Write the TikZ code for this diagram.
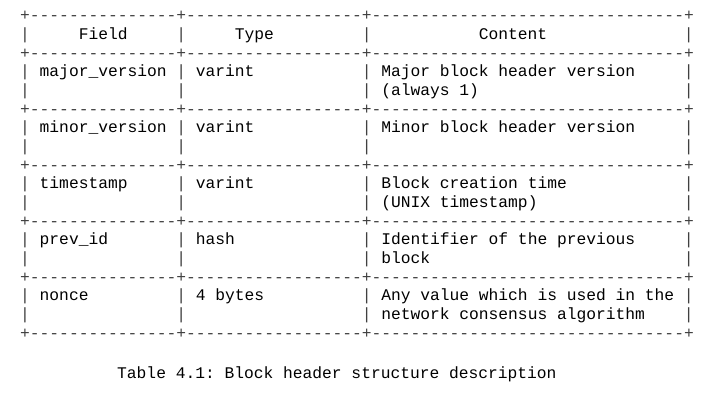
\documentclass[tikz,border=0pt]{standalone}
\usepackage{fontspec}
\setmonofont{Liberation Mono}
\usetikzlibrary{positioning}
\newcommand{\cw}{9.76}
\newcommand{\dashrun}[1]{\foreach \i in {1,...,#1}{-}}

\begin{document}
\begin{tikzpicture}[x=1pt, y=-1pt,
    asc/.style={inner sep=0pt, anchor=mid west, font=\fontsize{16.27}{18}\selectfont\ttfamily},
    bar/.style={asc, text=black!75}]
  \useasboundingbox (0,0) rectangle (717,400);
  % borders
  \foreach \yy in {18,56,112,168,224,280,336}
    \node[bar] at (20,\yy) {+\dashrun{15}+\dashrun{18}+\dashrun{32}+};
  % vertical bars
  \foreach \yy in {37,74,93,130,149,186,205,242,261,298,317}
    \foreach \cc in {0,16,35,68}
      \node[bar] at (20+\cc*\cw,\yy) {|};
  % header
  \node[asc] (hfield) at (20+6*\cw,37) {Field};
  \node[asc] (htype) at (20+22*\cw,37) {Type};
  \node[asc] (hcont) at (20+47*\cw,37) {Content};
  % rows
  \node[asc] (f1) at (20+2*\cw,74) {major\_version};
  \node[asc] (t1) at (20+18*\cw,74) {varint};
  \node[asc] (c1) at (20+37*\cw,74) {Major block header version};
  \node[asc] (c1b) at (20+37*\cw,93) {(always 1)};
  \node[asc] (f2) at (20+2*\cw,130) {minor\_version};
  \node[asc] (t2) at (20+18*\cw,130) {varint};
  \node[asc] (c2) at (20+37*\cw,130) {Minor block header version};
  \node[asc] (f3) at (20+2*\cw,186) {timestamp};
  \node[asc] (t3) at (20+18*\cw,186) {varint};
  \node[asc] (c3) at (20+37*\cw,186) {Block creation time};
  \node[asc] (c3b) at (20+37*\cw,205) {(UNIX timestamp)};
  \node[asc] (f4) at (20+2*\cw,242) {prev\_id};
  \node[asc] (t4) at (20+18*\cw,242) {hash};
  \node[asc] (c4) at (20+37*\cw,242) {Identifier of the previous};
  \node[asc] (c4b) at (20+37*\cw,261) {block};
  \node[asc] (f5) at (20+2*\cw,298) {nonce};
  \node[asc] (t5) at (20+18*\cw,298) {4 bytes};
  \node[asc] (c5) at (20+37*\cw,298) {Any value which is used in the};
  \node[asc] (c5b) at (20+37*\cw,317) {network consensus algorithm};
  % caption
  \node[asc] (caption) at (117,376) {Table 4.1: Block header structure description};
\end{tikzpicture}
\end{document}
